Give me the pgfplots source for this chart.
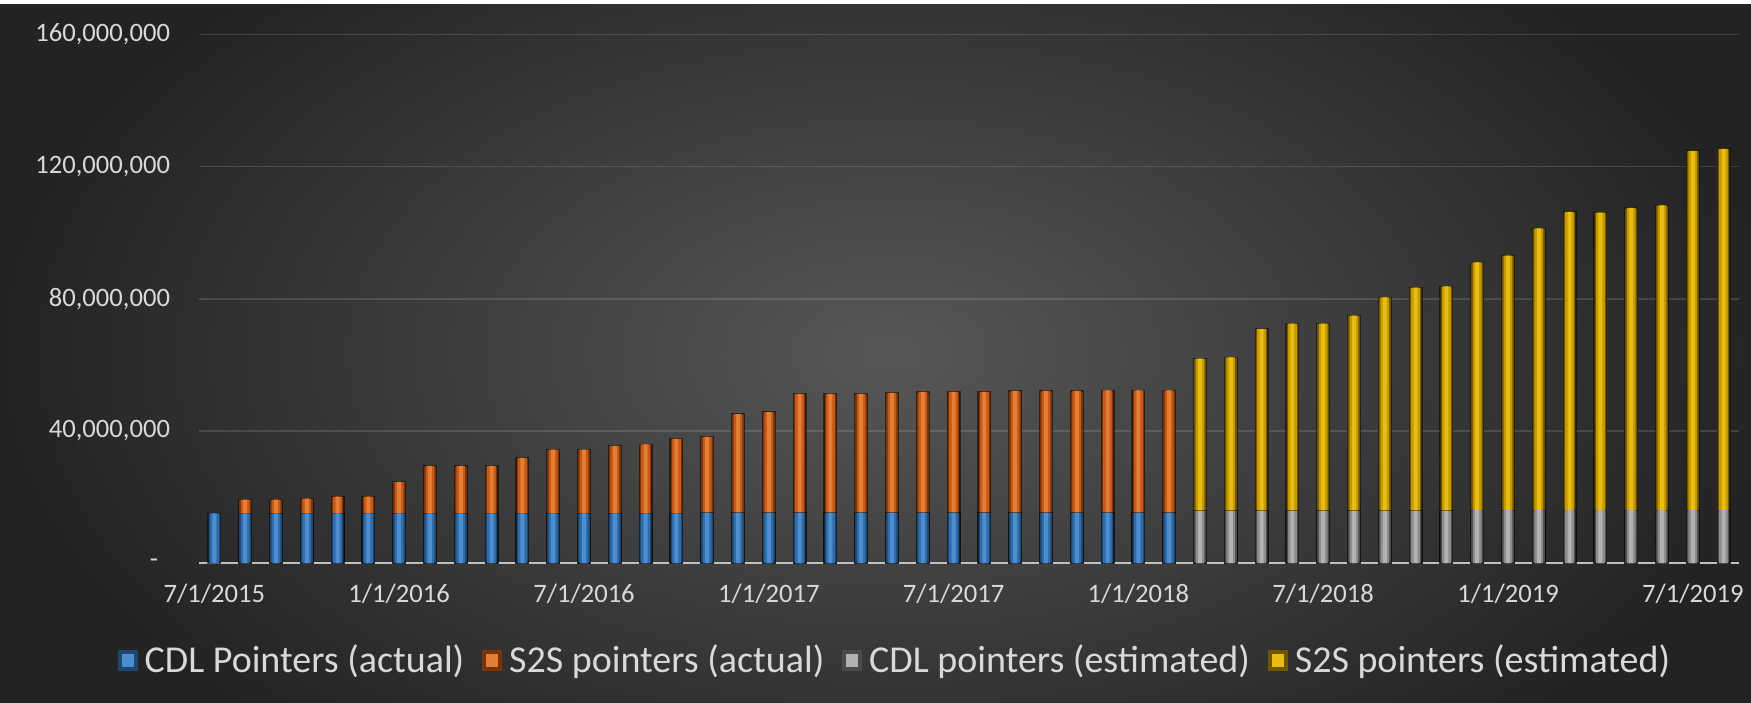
\documentclass[border=0pt]{standalone}
\usepackage{pgfplots}
\usepackage{pgfplotstable}
\pgfplotsset{compat=1.18}
\usepackage{fontspec}
\setmainfont{Carlito}

\definecolor{blueA}{HTML}{1E4870}
\definecolor{blueB}{HTML}{306CA8}
\definecolor{blueC}{HTML}{4E8ECE}
\definecolor{orangeA}{HTML}{7A3208}
\definecolor{orangeB}{HTML}{C4591A}
\definecolor{orangeC}{HTML}{E37E34}
\definecolor{grayA}{HTML}{4A4A4A}
\definecolor{grayB}{HTML}{8C8C8C}
\definecolor{grayC}{HTML}{B2B2B2}
\definecolor{yellowA}{HTML}{6E5500}
\definecolor{yellowB}{HTML}{C49A00}
\definecolor{yellowC}{HTML}{E8BC12}
\definecolor{labelgray}{HTML}{D9D9D9}
\definecolor{axisgray}{HTML}{BFBFBF}
\definecolor{bgmid}{HTML}{575757}
\definecolor{bgdark}{HTML}{232323}

\pgfplotsset{
  outerbar/.style={forget plot, bar shift=0pt, bar width=6.4pt, fill=#1, draw=black, draw opacity=0.5, line width=0.6pt},
  midbar/.style={forget plot, bar shift=0pt, bar width=4.4pt, fill=#1, draw=none},
  innerbar/.style={forget plot, bar shift=0pt, bar width=2.0pt, fill=#1, draw=none},
  legsq/.style n args={2}{legend image code/.code={%
    \fill[#1] (0pt,-5pt) rectangle (9.5pt,5pt);
    \fill[#2] (2pt,-3pt) rectangle (7.5pt,3pt);}},
}

% actual: x, CDL pointers, top of stacked bar (CDL + S2S)
\pgfplotstableread{
x cdl tot
0 15000000 15000000
1 15000000 19200000
2 15000000 19200000
3 15000000 19500000
4 15000000 20100000
5 15000000 20100000
6 15000000 24600000
7 15000000 29400000
8 15000000 29400000
9 15000000 29400000
10 15000000 31800000
11 15000000 34300000
12 15000000 34300000
13 15000000 35500000
14 15000000 35900000
15 15000000 37600000
16 15200000 38200000
17 15200000 45100000
18 15200000 45700000
19 15200000 51200000
20 15200000 51200000
21 15200000 51200000
22 15200000 51500000
23 15200000 51800000
24 15200000 51800000
25 15200000 51800000
26 15200000 52100000
27 15200000 52100000
28 15200000 52100000
29 15200000 52300000
30 15200000 52300000
31 15200000 52300000
}\actual

\pgfplotstableread{
x tot
1 19200000
2 19200000
3 19500000
4 20100000
5 20100000
6 24600000
7 29400000
8 29400000
9 29400000
10 31800000
11 34300000
12 34300000
13 35500000
14 35900000
15 37600000
16 38200000
17 45100000
18 45700000
19 51200000
20 51200000
21 51200000
22 51500000
23 51800000
24 51800000
25 51800000
26 52100000
27 52100000
28 52100000
29 52300000
30 52300000
31 52300000
}\actualS

% estimated: x, CDL pointers, top of stacked bar (CDL + S2S)
\pgfplotstableread{
x cdl tot
32 15800000 61900000
33 15800000 62300000
34 15800000 70900000
35 15800000 72500000
36 15800000 72500000
37 15800000 74900000
38 15800000 80400000
39 15800000 83400000
40 15800000 83800000
41 16000000 91000000
42 16000000 93100000
43 16000000 101300000
44 16000000 106300000
45 16000000 106100000
46 16000000 107500000
47 16000000 108300000
48 16000000 124800000
49 16000000 125400000
}\est

\begin{document}
\begin{tikzpicture}
\fill[white] (-99.5pt,-69.5pt) rectangle (776pt,281.5pt);
\begin{scope}
\clip (-99.5pt,-69.5pt) rectangle (776pt,279pt);
\shade[inner color=bgmid, outer color=bgdark] (-99.5pt,-150pt) rectangle (790pt,360pt);
\end{scope}
\begin{axis}[
  at={(0,0)}, anchor=south west,
  scale only axis, width=770pt, height=264.2pt,
  xmin=-0.5, xmax=49.5, ymin=0, ymax=160000000,
  ybar, bar width=6.2pt,
  axis x line*=bottom, axis y line*=left,
  x axis line style={draw=axisgray, line width=1pt, -},
  y axis line style={draw=none},
  major tick length=0pt,
  xtick={0,6,12,18,24,30,36,42,48},
  xticklabels={7/1/2015,1/1/2016,7/1/2016,1/1/2017,7/1/2017,1/1/2018,7/1/2018,1/1/2019,7/1/2019},
  ytick={0,40000000,80000000,120000000,160000000},
  yticklabels={{-\kern6pt},{40,000,000},{80,000,000},{120,000,000},{160,000,000}},
  scaled y ticks=false,
  ymajorgrids, grid style={draw=white, draw opacity=0.13, line width=0.7pt},
  ticklabel style={text=labelgray, font=\fontsize{13.3}{15}\selectfont},
  yticklabel style={xshift=-11pt},
  xticklabel style={yshift=-7pt},
  legend columns=4,
  legend style={at={(0.4526,-0.1836)}, anchor=center, draw=none, fill=none,
    text=labelgray, font=\fontsize{19}{22}\selectfont,
    /tikz/every odd column/.append style={column sep=1.5pt},
    /tikz/every even column/.append style={column sep=7pt}},
]
% S2S actual (bar top = CDL + S2S)
\addplot[outerbar=orangeA] table[x=x,y=tot]{\actualS};
\addplot[midbar=orangeB] table[x=x,y=tot]{\actualS};
\addplot[innerbar=orangeC] table[x=x,y=tot]{\actualS};
% CDL actual
\addplot[outerbar=blueA] table[x=x,y=cdl]{\actual};
\addplot[midbar=blueB] table[x=x,y=cdl]{\actual};
\addplot[innerbar=blueC] table[x=x,y=cdl]{\actual};
% S2S estimated
\addplot[outerbar=yellowA] table[x=x,y=tot]{\est};
\addplot[midbar=yellowB] table[x=x,y=tot]{\est};
\addplot[innerbar=yellowC] table[x=x,y=tot]{\est};
% CDL estimated
\addplot[outerbar=grayA] table[x=x,y=cdl]{\est};
\addplot[midbar=grayB] table[x=x,y=cdl]{\est};
\addplot[innerbar=grayC] table[x=x,y=cdl]{\est};
\addlegendimage{legsq={blueA}{blueC}}
\addlegendentry{CDL Pointers (actual)}
\addlegendimage{legsq={orangeA}{orangeC}}
\addlegendentry{S2S pointers (actual)}
\addlegendimage{legsq={grayA}{grayC}}
\addlegendentry{CDL pointers (estimated)}
\addlegendimage{legsq={yellowA}{yellowC}}
\addlegendentry{S2S pointers (estimated)}
\end{axis}
\pgfresetboundingbox
\path[use as bounding box] (-99.5pt,-69.5pt) rectangle (776pt,281.5pt);
\end{tikzpicture}
\end{document}
